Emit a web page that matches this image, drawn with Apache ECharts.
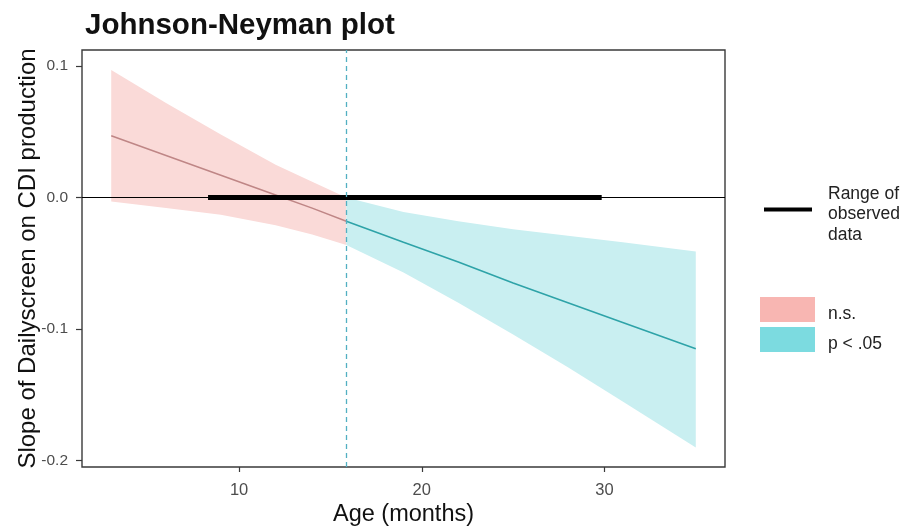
<!DOCTYPE html>
<html>
<head>
<meta charset="utf-8">
<script src="https://cdn.jsdelivr.net/npm/echarts@6/dist/echarts.min.js"></script>
<style>
html,body{margin:0;padding:0;background:#fff;}
#chart{width:912px;height:527px;}
</style>
</head>
<body>
<div id="chart"></div>
<script>
// ---- data ----
var ageNs    = [3, 6, 9, 12, 14, 15.87];
var estNs    = [0.047, 0.032, 0.017, 0.002, -0.008, -0.018];
var upperNs  = [0.097, 0.072, 0.048, 0.025, 0.012, 0.000];
var lowerNs  = [-0.003, -0.008, -0.013, -0.021, -0.028, -0.036];

var ageSig   = [15.87, 19, 22, 25, 28, 31, 35];
var estSig   = [-0.018, -0.034, -0.049, -0.065, -0.080, -0.095, -0.115];
var upperSig = [0.000, -0.011, -0.018, -0.024, -0.029, -0.034, -0.041];
var lowerSig = [-0.036, -0.057, -0.080, -0.104, -0.129, -0.155, -0.190];

var observedRange = [8.3, 29.85];
var jnPoint = 15.87;
var xTicks = [10, 20, 30];
var yTicks = [-0.2, -0.1, 0.0, 0.1];

var FONT = '"Liberation Sans", Arial, sans-serif';

function pairs(xs, ys) { return xs.map(function (x, i) { return [x, ys[i]]; }); }
function triples(xs, lo, hi) { return xs.map(function (x, i) { return [x, lo[i], hi[i]]; }); }

function bandRender(color) {
  return function (params, api) {
    if (params.dataIndexInside !== 0) return null;
    var n = params.dataInsideLength;
    var top = [], bot = [];
    for (var i = 0; i < n; i++) {
      var x = api.value(0, i);
      bot.push(api.coord([x, api.value(1, i)]));
      top.push(api.coord([x, api.value(2, i)]));
    }
    return {
      type: 'polygon',
      shape: {points: top.concat(bot.reverse())},
      style: {fill: color}
    };
  };
}

function shiftedLabel(name) {
  return '{s| }\n' + name.split('\n').map(function (l) { return '{t|' + l + '}'; }).join('\n');
}

var chart = echarts.init(document.getElementById('chart'), null, {renderer: 'canvas'});
var option = {
  animation: false,
  backgroundColor: '#ffffff',
  textStyle: {fontFamily: FONT},
  title: {
    text: 'Johnson-Neyman plot',
    left: 80, top: 6,
    textStyle: {fontFamily: FONT, fontWeight: 'bold', fontSize: 29.5, color: '#111'}
  },
  grid: {
    left: 82, right: 187, top: 50, bottom: 60,
    containLabel: false, outerBoundsMode: 'none',
    show: true, borderColor: '#3a3a3a', borderWidth: 1.4, backgroundColor: 'transparent'
  },
  legend: [
    {
      left: 764, top: 178.25, orient: 'vertical', padding: 0,
      icon: 'rect', itemWidth: 48, itemHeight: 4,
      formatter: shiftedLabel,
      textStyle: {fontFamily: FONT, fontSize: 17.5, color: '#222', padding: [0, 0, 0, 11],
        rich: {s: {fontSize: 1, lineHeight: 10}, t: {fontFamily: FONT, fontSize: 17.5, color: '#222', lineHeight: 20.5}}},
      data: [{name: 'Range of\nobserved\ndata', itemStyle: {color: '#000'}}]
    },
    {
      left: 760, top: 297, orient: 'vertical', padding: 0,
      icon: 'rect', itemWidth: 55, itemHeight: 25, itemGap: 4,
      formatter: shiftedLabel,
      textStyle: {fontFamily: FONT, fontSize: 17.5, color: '#222', padding: [0, 0, 0, 8],
        rich: {s: {fontSize: 1, lineHeight: 9}, t: {fontFamily: FONT, fontSize: 17.5, color: '#222', lineHeight: 20}}},
      data: [
        {name: 'n.s.', itemStyle: {color: '#f8b6b2'}},
        {name: 'p < .05', itemStyle: {color: '#7cdbe0'}}
      ]
    }
  ],
  xAxis: {
    type: 'value', min: 1.4, max: 36.6,
    name: 'Age (months)', nameLocation: 'middle', nameGap: 36, nameMoveOverlap: false,
    nameTextStyle: {fontFamily: FONT, fontSize: 23.5, color: '#111'},
    splitLine: {show: false},
    axisLine: {show: false, onZero: false},
    axisTick: {show: true, length: 5, customValues: xTicks, lineStyle: {color: '#3a3a3a', width: 1.2}},
    axisLabel: {customValues: xTicks, margin: 15, fontFamily: FONT, fontSize: 16.5, color: '#4d4d4d'}
  },
  yAxis: {
    type: 'value', min: -0.2048, max: 0.1122,
    name: 'Slope of Dailyscreen on CDI production', nameLocation: 'middle', nameGap: 42, nameMoveOverlap: false,
    nameTextStyle: {fontFamily: FONT, fontSize: 24, color: '#111'},
    splitLine: {show: false},
    axisLine: {show: false, onZero: false},
    axisTick: {show: true, length: 6, customValues: yTicks, lineStyle: {color: '#3a3a3a', width: 1.2}},
    axisLabel: {customValues: yTicks, margin: 14, fontFamily: FONT, fontSize: 15.5, color: '#4d4d4d',
      formatter: function (v) { return v.toFixed(1); }}
  },
  series: [
    // confidence bands
    {name: 'n.s.', type: 'custom', data: triples(ageNs, lowerNs, upperNs),
     encode: {x: 0, y: [1, 2]}, renderItem: bandRender('#fadad8'), silent: true, z: 1},
    {name: 'p < .05', type: 'custom', data: triples(ageSig, lowerSig, upperSig),
     encode: {x: 0, y: [1, 2]}, renderItem: bandRender('#c9eff1'), silent: true, z: 1},
    // reference lines
    {name: 'ref', type: 'line', data: [], silent: true, z: 2,
     markLine: {
       silent: true, symbol: ['none', 'none'], label: {show: false},
       data: [
         {yAxis: 0, lineStyle: {color: '#000', width: 1.2, type: 'solid'}},
         {xAxis: jnPoint, lineStyle: {color: '#52b0c2', width: 1.3, type: [5, 4]}}
       ]
     }},
    // estimate lines
    {name: 'n.s.', type: 'line', data: pairs(ageNs, estNs), symbol: 'none',
     lineStyle: {color: '#bf8686', width: 1.5}, z: 3},
    {name: 'p < .05', type: 'line', data: pairs(ageSig, estSig), symbol: 'none',
     lineStyle: {color: '#2ea3a8', width: 1.6}, z: 3},
    // observed range
    {name: 'Range of\nobserved\ndata', type: 'line', symbol: 'none', z: 4,
     data: [[observedRange[0], 0], [observedRange[1], 0]],
     lineStyle: {color: '#000', width: 5}, itemStyle: {color: '#000'}}
  ]
};
chart.setOption(option);
</script>
</body>
</html>
